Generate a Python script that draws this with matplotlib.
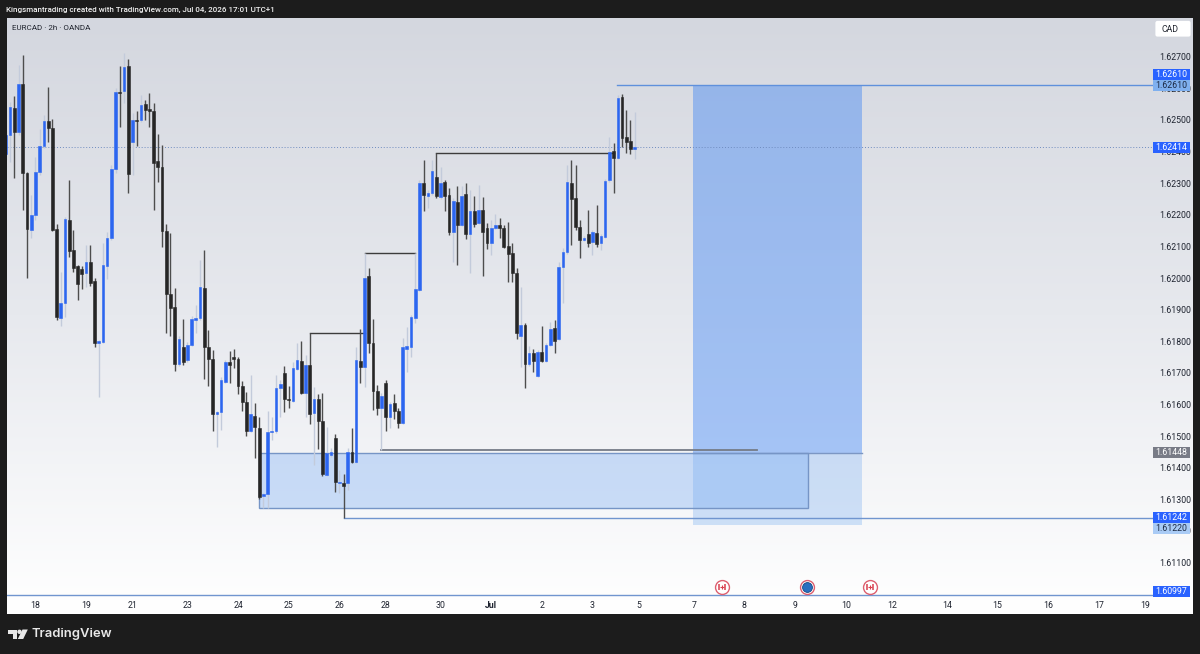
import numpy as np
import matplotlib
matplotlib.use('Agg')
import matplotlib.pyplot as plt
from matplotlib.colors import LinearSegmentedColormap
from matplotlib.patches import Rectangle, Polygon, Circle, FancyBboxPatch

plt.rcParams['font.family'] = ['Roboto', 'DejaVu Sans']

# EURCAD 2h candles, prices in points (1e-5)
opens = [162392, 162452, 162538, 162462, 162614, 162332, 162152, 162199, 162335, 162418,
         162497, 162474, 162155, 161873, 161921, 162183, 162089, 162038, 162029, 162016,
         162051, 161990, 161794, 161798, 162038, 162127, 162345, 162588, 162592, 162670,
         162430, 162500, 162500, 162550, 162535, 162528, 162370, 162351, 162149, 161949,
         161908, 161728, 161782, 161741, 161788, 161867, 161873, 161969, 161782, 161744,
         161570, 161576, 161671, 161734, 161750, 161744, 161658, 161608, 161516, 161564,
         161526, 161311, 161317, 161513, 161516, 161652, 161700, 161617, 161611, 161712,
         161738, 161636, 161725, 161573, 161617, 161548, 161377, 161440, 161494, 161352,
         161352, 161352, 161450, 161418, 161738, 161719, 162006, 161794, 161643, 161589,
         161668, 161560, 161605, 161580, 161542, 161776, 161782, 161873, 161962, 162301,
         162260, 162269, 162320, 162256, 162304, 162263, 162146, 162240, 162168, 162266,
         162139, 162212, 162174, 162215, 162158, 162111, 162158, 162168, 162158, 162101,
         162079, 162016, 161817, 161851, 161728, 161763, 161690, 161766, 161738, 161788,
         161842, 161807, 162035, 162082, 162301, 162253, 162161, 162120, 162139, 162114,
         162143, 162111, 162130, 162310, 162402, 162380, 162573, 162446, 162433, 162408]
highs = [162468, 162557, 162576, 162674, 162705, 162335, 162263, 162383, 162471, 162516,
         162604, 162503, 162171, 162019, 162193, 162310, 162152, 162041, 162038, 162105,
         162105, 162000, 161804, 162111, 162146, 162358, 162601, 162670, 162712, 162692,
         162522, 162528, 162579, 162563, 162585, 162554, 162455, 162421, 162171, 162143,
         161969, 161817, 161870, 161798, 161880, 161915, 162057, 162089, 161836, 161772,
         161580, 161687, 161741, 161769, 161776, 161750, 161674, 161639, 161693, 161605,
         161560, 161320, 161580, 161560, 161693, 161677, 161722, 161658, 161734, 161794,
         161801, 161757, 161826, 161655, 161633, 161636, 161529, 161462, 161507, 161393,
         161380, 161462, 161526, 161782, 161839, 162079, 162032, 161870, 161662, 161636,
         161677, 161608, 161633, 161589, 161811, 161845, 161883, 162079, 162310, 162373,
         162278, 162373, 162395, 162351, 162310, 162285, 162253, 162291, 162291, 162301,
         162278, 162260, 162294, 162256, 162174, 162183, 162202, 162190, 162168, 162177,
         162111, 162032, 161972, 161858, 161785, 161776, 161772, 161848, 161794, 161861,
         161867, 162051, 162095, 162358, 162373, 162358, 162183, 162133, 162215, 162152,
         162231, 162139, 162313, 162446, 162427, 162579, 162582, 162531, 162500, 162525]
lows = [162373, 162367, 162317, 162452, 162215, 162000, 162127, 162183, 162326, 162411,
        162430, 162149, 161867, 161848, 161877, 162067, 162019, 161930, 161965, 161972,
        161975, 161782, 161624, 161794, 161997, 162120, 162332, 162478, 162554, 162269,
        162326, 162418, 162494, 162500, 162478, 162215, 162304, 162098, 161826, 161817,
        161706, 161722, 161725, 161734, 161785, 161826, 161867, 161680, 161658, 161516,
        161466, 161519, 161668, 161668, 161716, 161633, 161580, 161501, 161513, 161431,
        161301, 161272, 161272, 161488, 161510, 161560, 161576, 161589, 161608, 161709,
        161633, 161560, 161539, 161409, 161459, 161374, 161374, 161434, 161323, 161320,
        161241, 161330, 161415, 161415, 161668, 161655, 161763, 161583, 161567, 161456,
        161516, 161526, 161554, 161526, 161539, 161703, 161750, 161857, 161959, 162212,
        162221, 162263, 162253, 162250, 162212, 162136, 162051, 162041, 162165, 162124,
        162016, 162161, 162171, 162007, 162092, 162073, 162155, 162127, 162095, 161987,
        161987, 161807, 161719, 161652, 161722, 161703, 161687, 161734, 161734, 161785,
        161763, 161804, 161921, 162076, 162105, 162152, 162063, 162117, 162098, 162073,
        162098, 162089, 162127, 162304, 162269, 162377, 162414, 162395, 162392, 162376]
closes = [162452, 162541, 162462, 162614, 162332, 162155, 162199, 162335, 162418, 162497,
          162474, 162152, 161877, 161921, 162186, 162086, 162032, 161981, 162013, 162051,
          161984, 161794, 161801, 162041, 162127, 162345, 162588, 162585, 162667, 162329,
          162500, 162497, 162547, 162531, 162528, 162364, 162351, 162149, 161949, 161905,
          161728, 161807, 161734, 161788, 161870, 161873, 161972, 161782, 161744, 161570,
          161576, 161677, 161734, 161725, 161744, 161658, 161608, 161516, 161570, 161529,
          161307, 161317, 161513, 161516, 161652, 161665, 161617, 161614, 161716, 161741,
          161636, 161725, 161570, 161617, 161548, 161380, 161447, 161450, 161355, 161355,
          161342, 161450, 161418, 161741, 161719, 162000, 161794, 161643, 161589, 161627,
          161560, 161602, 161580, 161542, 161782, 161785, 161877, 161965, 162301, 162263,
          162269, 162339, 162260, 162301, 162260, 162146, 162244, 162168, 162260, 162139,
          162212, 162171, 162215, 162146, 162111, 162158, 162168, 162158, 162098, 162076,
          162016, 161826, 161851, 161728, 161763, 161738, 161766, 161738, 161788, 161839,
          161801, 162035, 162082, 162304, 162250, 162161, 162120, 162127, 162111, 162146,
          162108, 162133, 162307, 162399, 162380, 162569, 162443, 162430, 162408, 162414]

# level and zone prices
trade_top = 1.62610
trade_entry = 1.61448
trade_stop = 1.61220
box_bottom = 1.61272
low_line = 1.61242
axis_line = 1.60997
last_price = 1.62414
break_lines = [(72, 85, 1.61826), (85, 97, 1.62079), (102, 144, 1.62395)]
sweep_line = (89, 178, 1.61456)

price_ticks = [1.627, 1.626, 1.625, 1.624, 1.623, 1.622, 1.621, 1.620, 1.619, 1.618,
               1.617, 1.616, 1.615, 1.614, 1.613, 1.612, 1.611]
day_ticks = [7, 19, 30, 43, 55, 67, 79, 90, 103, 115, 127, 139, 150, 163, 175, 187, 199,
             210, 223, 235, 247, 259, 270]
day_labels = ['18', '19', '21', '23', '24', '25', '26', '28', '30', 'Jul', '2', '3', '5',
              '7', '8', '9', '10', '12', '14', '15', '16', '17', '19']

# value, background, text colour, pixel shift of the tag
price_tags = [(1.62610, '#2962ff', 'white', -11),
              (1.62610, '#7fb0ef', '#1c2a44', 0),
              (1.62414, '#2962ff', 'white', 0),
              (1.61448, '#787b86', 'white', 0),
              (1.61242, '#2962ff', 'white', 0),
              (1.61220, '#a9cbf5', '#1c2a44', 4),
              (1.60997, '#2962ff', 'white', -4)]
event_bars = [169.7, 204.8]
event_bar_mid = 189.8
event_price = 1.61023

BLUE = '#2c66f0'
DARK = '#262626'
LINE = '#5f90dc'
px_price = 1 / 31625.0

opens = np.array(opens) / 1e5
highs = np.array(highs) / 1e5
lows = np.array(lows) / 1e5
closes = np.array(closes) / 1e5
bars = np.arange(len(opens))
up = closes >= opens

fig = plt.figure(figsize=(12, 6.54), dpi=100, facecolor='#1c1c1c')
ax = fig.add_axes([7 / 1200, 1 - 614 / 654, 1186 / 1200, 596.5 / 654])
xlim = (0.26, 281.3)
ylim = (1.609375, 1.62824)

# background gradient of the pane
cmap = LinearSegmentedColormap.from_list('pane', ['#d4d7df', '#e7e9ee', '#ffffff'])
ax.imshow(np.linspace(0, 1, 256).reshape(-1, 1), cmap=cmap, aspect='auto',
          extent=(xlim[0], xlim[1], ylim[0], ylim[1]), zorder=0)

# long position zones
ax.add_patch(Rectangle((162.8, trade_entry), 40.1, trade_top - trade_entry,
                       facecolor='#3a82f5', alpha=0.42, edgecolor='none', zorder=1))
ax.add_patch(Rectangle((162.8, trade_stop), 40.1, trade_entry - trade_stop,
                       facecolor='#6fa8f0', alpha=0.31, edgecolor='none', zorder=1))
ax.plot([162.8, 202.9], [trade_entry, trade_entry], color='#7c97c4', lw=1, zorder=2)

# demand box
ax.add_patch(Rectangle((59.9, box_bottom), 130.1, trade_entry - box_bottom,
                       facecolor='#6aa4f4', alpha=0.32, edgecolor='none', zorder=1.5))
ax.add_patch(Rectangle((59.9, box_bottom), 130.1, trade_entry - box_bottom,
                       facecolor='none', edgecolor='#7695c6', lw=1, zorder=2))

# horizontal levels
ax.plot([144.8, 271.8], [trade_top, trade_top], color=LINE, lw=1, zorder=2)
ax.plot([80, 271.8], [low_line, low_line], color='#7095cf', lw=1, zorder=2)
ax.plot([0.26, 271.8], [axis_line, axis_line], color='#7095cf', lw=1, zorder=2)
ax.plot([0.26, 271.8], [last_price, last_price], color='#6f8cc0', lw=0.7,
        ls=(0, (1, 2)), zorder=2)
for start, end, price in break_lines:
    ax.plot([start, end], [price, price], color='#3c3c3c', lw=1, zorder=2.5)
ax.plot(sweep_line[:2], [sweep_line[2]] * 2, color='#757b87', lw=1.3, zorder=2.5)

# candles
ax.vlines(bars[up], lows[up], highs[up], color='#c3cbdb', lw=1, zorder=3)
ax.vlines(bars[~up], lows[~up], highs[~up], color='#4d4d4d', lw=1, zorder=3)
ax.bar(bars[up], (closes - opens)[up], 0.62, opens[up], color=BLUE,
       edgecolor=BLUE, lw=0.4, zorder=4)
ax.bar(bars[~up], (opens - closes)[~up], 0.68, closes[~up], color=DARK,
       edgecolor=DARK, lw=0.4, zorder=4)

# event markers on the time axis
ax.scatter(event_bars + [event_bar_mid], [event_price] * 3, s=100, facecolor='white',
           edgecolor='#dd5f70', lw=1, zorder=5)
ax.scatter(event_bars, [event_price] * 2, s=7, marker='+', color='#d9404f', lw=0.8, zorder=6)
for sign in (-0.75, 0.75):
    ax.scatter([b + sign for b in event_bars], [event_price] * 2, s=16, marker='|',
               color='#d9404f', lw=1.1, zorder=6)
ax.scatter([event_bar_mid], [event_price], s=50, facecolor='#2a6fc0',
           edgecolor='#17467f', lw=0.6, zorder=6)

ax.set_xlim(xlim)
ax.set_ylim(ylim)
for spine in ax.spines.values():
    spine.set_visible(False)
ax.yaxis.tick_right()
ax.set_yticks(price_ticks)
ax.set_yticklabels([f'{p:.5f}' for p in price_ticks])
ax.set_xticks(day_ticks)
ax.set_xticklabels(day_labels)
ax.tick_params(axis='y', length=0, pad=-24.6, labelsize=6.3, labelcolor='#1f2430')
ax.tick_params(axis='x', length=0, pad=-9.6, labelsize=6.3, labelcolor='#1f2430')
ax.get_xticklabels()[day_labels.index('Jul')].set_fontweight('bold')

# price tags on the scale
for value, bg, fg, shift in price_tags:
    centre = value - shift * px_price
    ax.add_patch(Rectangle((271.8, centre - 5.5 * px_price), 8.8, 11 * px_price,
                           facecolor=bg, edgecolor='none', zorder=10))
    ax.text(276.2, centre, f'{value:.5f}', ha='center', va='center', fontsize=6.3,
            color=fg, zorder=11)

# header, watermark and logo live in pixel coordinates
top = fig.add_axes([0, 0, 1, 1], facecolor='none')
top.set_xlim(0, 1200)
top.set_ylim(654, 0)
top.axis('off')
top.text(6.5, 9.5, 'Kingsmantrading created with TradingView.com, Jul 04, 2026 17:01 UTC+1',
         color='#f2f2f2', fontsize=5.8, va='center', fontweight='medium')
top.text(12, 27.5, 'EURCAD · 2h · OANDA', color='#20242e', fontsize=5.8, va='center')
top.add_patch(FancyBboxPatch((1156, 21.5), 34, 14.5, boxstyle='round,pad=0.6,rounding_size=2',
                             facecolor='white', edgecolor='none'))
top.text(1161, 29, 'CAD', color='#20242e', fontsize=6.3, va='center')
top.add_patch(Polygon([(8, 629.5), (17, 629.5), (17, 639), (12.5, 639), (12.5, 634), (8, 634)],
                      facecolor='#e8e8e8', edgecolor='none'))
top.add_patch(Circle((19.5, 631.8), 2.2, facecolor='#e8e8e8', edgecolor='none'))
top.add_patch(Polygon([(22.5, 629.5), (27.8, 629.5), (23.2, 639), (17.8, 639)],
                      facecolor='#e8e8e8', edgecolor='none'))
top.text(32, 634.5, 'TradingView', color='#e8e8e8', fontsize=9.4, va='center',
         fontweight='semibold', family=['Inter', 'DejaVu Sans'])

fig.savefig('out.png', dpi=100, facecolor=fig.get_facecolor())
